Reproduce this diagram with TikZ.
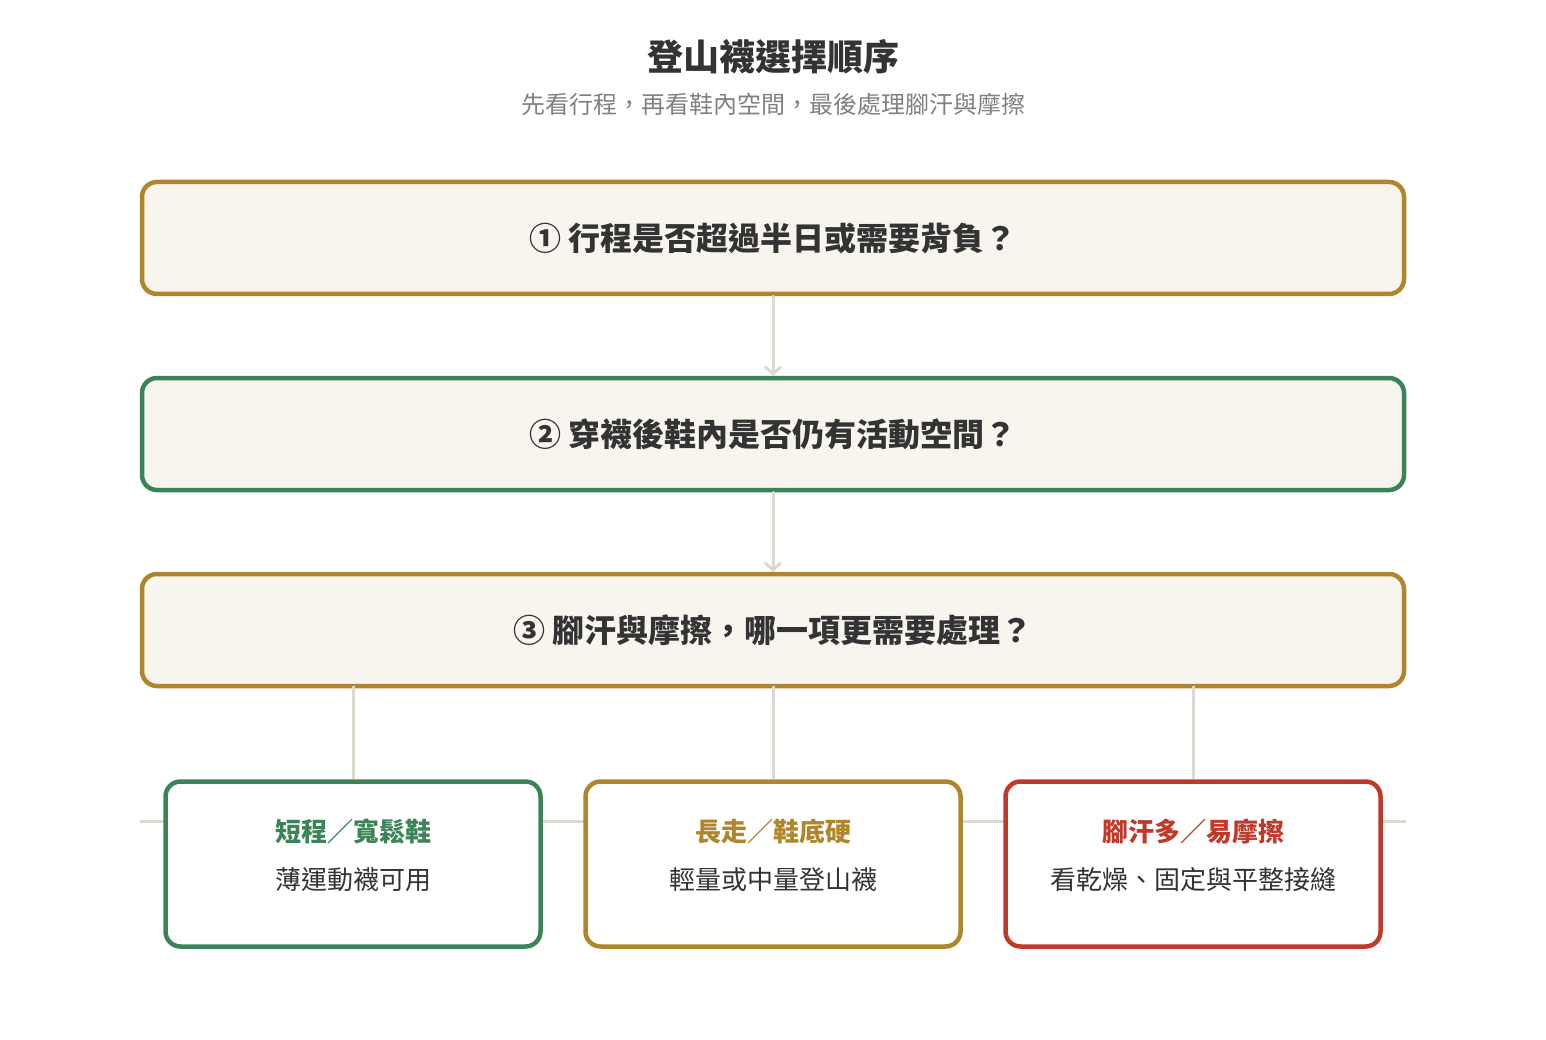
\documentclass[tikz,border=0pt]{standalone}
\usepackage{fontspec}
\setmainfont{Noto Sans CJK TC}
\usetikzlibrary{positioning,arrows.meta}
\definecolor{gold}{HTML}{B0862C}
\definecolor{grn}{HTML}{3D8358}
\definecolor{redd}{HTML}{C0392B}
\definecolor{paper}{HTML}{F8F5EE}
\definecolor{wire}{HTML}{DDD9CF}
\definecolor{ink}{HTML}{333333}
\begin{document}
\begin{tikzpicture}[x=1pt,y=-1pt,line cap=round]
	\tikzstyle{step}=[draw=#1,line width=4.5pt,fill=paper,rounded corners=15pt,minimum width=1262pt,minimum height=112pt,font=\fontsize{32pt}{36pt}\selectfont\bfseries,text=ink];
	\tikzstyle{leaf}=[draw=#1,line width=4.5pt,fill=white,rounded corners=15pt,minimum width=375pt,minimum height=165pt,align=center,text=ink];
	\tikzstyle{wire}=[draw=wire,line width=3pt];
	\useasboundingbox (0,0) rectangle (1546,1040);
	%% title
	\node (title) at (773,57) {\fontsize{36pt}{40pt}\selectfont\bfseries\color{ink}登山襪選擇順序};
	\node[text=black!50,font=\fontsize{24pt}{28pt}\selectfont] (sub) at (773,104) {先看行程，再看鞋內空間，最後處理腳汗與摩擦};
	%% steps
	\node[step=gold] (q1) at (773,238) {① 行程是否超過半日或需要背負？};
	\node[step=grn] (q2) at (773,434) {② 穿襪後鞋內是否仍有活動空間？};
	\node[step=gold] (q3) at (773,630) {③ 腳汗與摩擦，哪一項更需要處理？};
	\draw[wire,->,>={Straight Barb[length=7pt,width=16pt]}] (q1) -- (q2);
	\draw[wire,->,>={Straight Barb[length=7pt,width=16pt]}] (q2) -- (q3);
	%% leaves
	\coordinate (lineL) at (140,821);
	\coordinate (lineR) at (1406,821);
	\draw[wire,line cap=butt] (lineL) -- (lineR);
	\foreach \n/\x/\c/\t/\b in {a/353/grn/短程／寬鬆鞋/薄運動襪可用,b/773/gold/長走／鞋底硬/輕量或中量登山襪,c/1193/redd/腳汗多／易摩擦/看乾燥、固定與平整接縫}{
		\coordinate (top\n) at (\x,686);
		\node[leaf=\c] (\n) at (\x,864) {};
		\node (\n t) at (\x,832) {\fontsize{26pt}{30pt}\selectfont\bfseries\color{\c}\t};
		\node[text=ink] (\n b) at (\x,880) {\fontsize{26pt}{30pt}\selectfont\b};
		\draw[wire,line cap=butt] (top\n) -- (\n);
	}
\end{tikzpicture}
\end{document}
